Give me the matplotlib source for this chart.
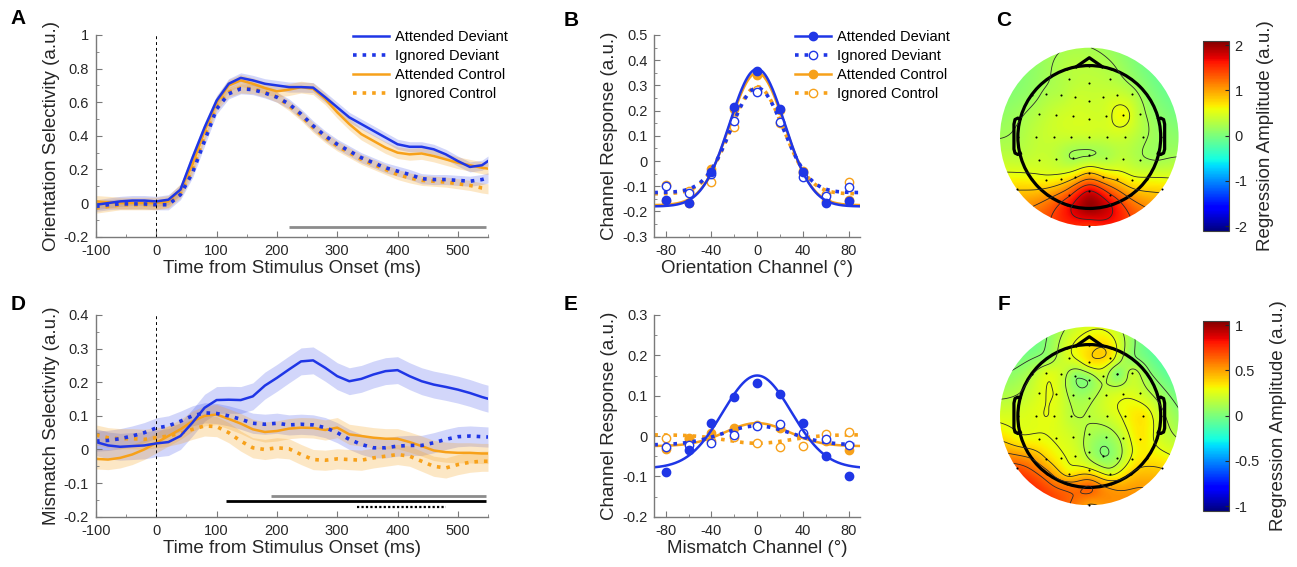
import numpy as np
import matplotlib
matplotlib.use('Agg')
import matplotlib.pyplot as plt
from matplotlib.ticker import MultipleLocator, FormatStrFormatter
from matplotlib.patches import Circle

plt.rcParams['font.family'] = ['Liberation Sans', 'DejaVu Sans']
plt.rcParams['axes.unicode_minus'] = False

BLUE = '#1f36e6'
ORANGE = '#f7a11a'
labels = ['Attended Deviant', 'Ignored Deviant', 'Attended Control', 'Ignored Control']

# ---- time courses (ms) ----
time_ms = list(range(-100, 541, 20)) + [550]

A_att_dev = [-0.01, 0.0, 0.01, 0.015, 0.015, 0.01, 0.02, 0.08, 0.27, 0.45, 0.61, 0.71, 0.745, 0.73, 0.71, 0.70,
             0.69, 0.69, 0.687, 0.63, 0.57, 0.51, 0.47, 0.43, 0.39, 0.35, 0.335, 0.335, 0.32, 0.29, 0.25, 0.215,
             0.225, 0.25]
A_ign_dev = [-0.02, -0.01, -0.005, -0.005, -0.005, -0.01, -0.01, 0.05, 0.18, 0.37, 0.56, 0.65, 0.68, 0.675,
             0.655, 0.63, 0.59, 0.53, 0.46, 0.40, 0.35, 0.31, 0.27, 0.24, 0.21, 0.19, 0.17, 0.145, 0.14, 0.14,
             0.135, 0.13, 0.14, 0.15]
A_att_ctl = [0.01, 0.005, 0.0, 0.0, 0.0, 0.0, 0.01, 0.08, 0.23, 0.43, 0.6, 0.7, 0.73, 0.71, 0.685, 0.665, 0.675,
             0.69, 0.68, 0.62, 0.54, 0.47, 0.41, 0.37, 0.33, 0.30, 0.29, 0.295, 0.28, 0.26, 0.24, 0.225, 0.21,
             0.205]
A_ign_ctl = [-0.03, -0.02, -0.01, -0.01, -0.01, -0.01, 0.0, 0.06, 0.2, 0.4, 0.58, 0.66, 0.685, 0.68, 0.66, 0.63,
             0.58, 0.52, 0.45, 0.39, 0.34, 0.30, 0.26, 0.23, 0.20, 0.17, 0.15, 0.135, 0.13, 0.125, 0.115, 0.105,
             0.09, 0.085]
A_sem = [0.03, 0.03, 0.035, 0.03]
A_sig = [(220, 546)]

D_att_dev = [0.022, 0.012, 0.008, 0.01, 0.012, 0.018, 0.022, 0.04, 0.08, 0.124, 0.147, 0.148, 0.147, 0.158,
             0.19, 0.213, 0.238, 0.262, 0.265, 0.243, 0.218, 0.203, 0.21, 0.223, 0.233, 0.236, 0.218, 0.203,
             0.193, 0.186, 0.178, 0.168, 0.156, 0.151]
D_ign_dev = [0.025, 0.027, 0.032, 0.04, 0.05, 0.064, 0.07, 0.084, 0.1, 0.109, 0.107, 0.1, 0.09, 0.078, 0.075,
             0.078, 0.073, 0.075, 0.073, 0.065, 0.05, 0.03, 0.015, 0.005, 0.005, 0.01, 0.012, 0.012, 0.02, 0.03,
             0.038, 0.04, 0.038, 0.037]
D_att_ctl = [-0.028, -0.03, -0.025, -0.015, 0.0, 0.02, 0.04, 0.06, 0.084, 0.1, 0.104, 0.091, 0.077, 0.06, 0.052,
             0.055, 0.062, 0.065, 0.064, 0.058, 0.065, 0.045, 0.04, 0.035, 0.032, 0.032, 0.022, 0.01, -0.003,
             -0.008, -0.01, -0.01, -0.012, -0.012]
D_ign_ctl = [0.043, 0.035, 0.032, 0.032, 0.03, 0.035, 0.04, 0.048, 0.06, 0.07, 0.068, 0.05, 0.025, 0.005, 0.0,
             0.005, 0.002, -0.015, -0.03, -0.032, -0.028, -0.03, -0.032, -0.025, -0.02, -0.015, -0.02, -0.035,
             -0.05, -0.055, -0.045, -0.038, -0.035, -0.035]
D_sem = [0.04, 0.03, 0.03, 0.03]
D_sig_gray = [(190, 546)]
D_sig_black = [(115, 546)]
D_sig_dotted = [(332, 480)]

# ---- channel tuning functions ----
channels = [-80, -60, -40, -20, 0, 20, 40, 60, 80]
B_att_dev = [-0.155, -0.166, -0.045, 0.215, 0.358, 0.207, -0.044, -0.166, -0.159]
B_ign_dev = [-0.097, -0.126, -0.051, 0.158, 0.272, 0.154, -0.063, -0.137, -0.102]
B_att_ctl = [-0.16, -0.165, -0.031, 0.208, 0.34, 0.204, -0.04, -0.16, -0.155]
B_ign_ctl = [-0.093, -0.12, -0.084, 0.134, 0.28, 0.152, -0.047, -0.13, -0.084]
B_fit_base = [-0.18, -0.125, -0.175, -0.13]
B_fit_amp = [0.545, 0.415, 0.525, 0.425]
B_fit_width = [24, 23, 24, 23]

E_att_dev = [-0.09, -0.035, 0.033, 0.097, 0.132, 0.105, 0.033, -0.05, -0.099]
E_ign_dev = [-0.026, -0.022, -0.017, 0.002, 0.025, 0.029, 0.008, -0.008, -0.022]
E_att_ctl = [-0.033, -0.008, 0.008, 0.021, 0.027, 0.02, 0.005, -0.012, -0.035]
E_ign_ctl = [-0.004, -0.005, -0.012, -0.003, -0.018, -0.028, -0.025, 0.005, 0.011]
E_fit_base = [-0.08, -0.022, -0.025, 0.003]
E_fit_amp = [0.23, 0.047, 0.057, -0.021]
E_fit_width = [30, 30, 28, 28]

# ---- scalp maps ----
chan_names = ['Fp1', 'Fpz', 'Fp2',
              'AF7', 'AF3', 'AFz', 'AF4', 'AF8',
              'F7', 'F5', 'F3', 'F1', 'Fz', 'F2', 'F4', 'F6', 'F8',
              'FT7', 'FC5', 'FC3', 'FC1', 'FCz', 'FC2', 'FC4', 'FC6', 'FT8',
              'T7', 'C5', 'C3', 'C1', 'Cz', 'C2', 'C4', 'C6', 'T8',
              'TP7', 'CP5', 'CP3', 'CP1', 'CPz', 'CP2', 'CP4', 'CP6', 'TP8',
              'P9', 'P7', 'P5', 'P3', 'P1', 'Pz', 'P2', 'P4', 'P6', 'P8', 'P10',
              'PO7', 'PO3', 'POz', 'PO4', 'PO8',
              'O1', 'Oz', 'O2', 'Iz']
topo_C = [0.3, 0.3, 0.25,
          0.2, 0.3, 0.35, 0.3, 0.15,
          0.15, 0.25, 0.3, 0.4, 0.4, 0.4, 0.4, 0.3, 0.1,
          0.2, 0.3, 0.4, 0.45, 0.45, 0.45, 0.6, 0.3, 0.1,
          0.25, 0.35, 0.4, 0.4, 0.4, 0.4, 0.4, 0.25, 0.15,
          0.35, 0.4, 0.35, 0.2, 0.2, 0.25, 0.35, 0.25, 0.2,
          0.8, 0.6, 0.6, 0.65, 0.75, 0.8, 0.8, 0.75, 0.6, 0.55, 0.75,
          1.0, 1.35, 1.7, 1.45, 1.0,
          1.6, 2.0, 1.7, 1.5]
topo_F = [0.24, 0.34, 0.34,
          0.08, 0.24, 0.34, 0.34, 0.06,
          0.14, 0.24, 0.21, 0.05, 0.05, 0.19, 0.03, 0.19, 0.07,
          0.16, 0.24, 0.26, 0.11, 0.12, 0.21, 0.24, 0.21, 0.11,
          0.24, 0.26, 0.26, 0.16, 0.16, 0.21, 0.29, 0.34, 0.19,
          0.29, 0.29, 0.26, 0.21, 0.13, 0.08, 0.19, 0.34, 0.24,
          0.68, 0.5, 0.39, 0.29, 0.24, 0.11, 0.03, 0.11, 0.29, 0.34, 0.39,
          0.55, 0.34, 0.29, 0.24, 0.4,
          0.55, 0.64, 0.45, 0.5]

# electrode layout (10-10 system, polar angle / azimuth in degrees)
rows = [(['Fp1'], ['Fp2'], 'Fpz', (72, -18), (72, 0)),
        (['AF7', 'AF3'], ['AF8', 'AF4'], 'AFz', (72, -36), (54, 0)),
        (['F7', 'F5', 'F3', 'F1'], ['F8', 'F6', 'F4', 'F2'], 'Fz', (72, -54), (36, 0)),
        (['FT7', 'FC5', 'FC3', 'FC1'], ['FT8', 'FC6', 'FC4', 'FC2'], 'FCz', (72, -72), (18, 0)),
        (['T7', 'C5', 'C3', 'C1'], ['T8', 'C6', 'C4', 'C2'], 'Cz', (72, -90), (0, 0)),
        (['TP7', 'CP5', 'CP3', 'CP1'], ['TP8', 'CP6', 'CP4', 'CP2'], 'CPz', (72, -108), (18, 180)),
        (['P7', 'P5', 'P3', 'P1'], ['P8', 'P6', 'P4', 'P2'], 'Pz', (72, -126), (36, 180)),
        (['PO7', 'PO3'], ['PO8', 'PO4'], 'POz', (72, -144), (54, 180)),
        (['O1'], ['O2'], 'Oz', (72, -162), (72, 180))]


def sph(polar, az):
    p, a = np.radians(polar), np.radians(az)
    return np.array([np.sin(p) * np.sin(a), np.sin(p) * np.cos(a), np.cos(p)])


def flat(v):
    polar = np.degrees(np.arccos(np.clip(v[2], -1, 1)))
    az = np.arctan2(v[0], v[1])
    r = polar / 72.0
    return np.array([r * np.sin(az), r * np.cos(az)])


pos = {}
for left, right, mid, lat, md in rows:
    u, w = sph(*lat), sph(*md)
    om = np.arccos(np.clip(u @ w, -1, 1))
    for k, (ln, rn) in enumerate(zip(left, right)):
        t = k / len(left)
        v = u if om < 1e-9 else (np.sin((1 - t) * om) * u + np.sin(t * om) * w) / np.sin(om)
        p = flat(v)
        pos[ln] = p
        pos[rn] = np.array([-p[0], p[1]])
    pos[mid] = flat(w)
pos['P9'] = flat(sph(90, -126))
pos['P10'] = flat(sph(90, 126))
pos['Iz'] = flat(sph(90, 180))
elec_xy = np.array([pos[n] for n in chan_names])

W, H = 1297, 567
fig = plt.figure(figsize=(W / 100, H / 100), dpi=100)


def px_axes(l, t, r, b):
    return fig.add_axes([l / W, 1 - b / H, (r - l) / W, (b - t) / H])


def style(ax):
    for s in ['top', 'right']:
        ax.spines[s].set_visible(False)
    for s in ['left', 'bottom']:
        ax.spines[s].set_color('#7a7a7a')
        ax.spines[s].set_linewidth(1.0)
    ax.tick_params(which='both', direction='in', color='#7a7a7a', labelcolor='#262626', labelsize=10.5, pad=5)
    ax.tick_params(which='major', length=4)
    ax.tick_params(which='minor', length=2)
    ax.xaxis.set_major_formatter(FormatStrFormatter('%g'))
    ax.yaxis.set_major_formatter(FormatStrFormatter('%g'))


styles = [(BLUE, '-', 1.8), (BLUE, ':', 2.6), (ORANGE, '-', 1.8), (ORANGE, ':', 2.6)]


def time_panel(ax, series, sems, ylim, ymaj, ymin, ylabel):
    t = np.array(time_ms)
    for s, e, (c, ls, lw) in zip(series, sems, styles):
        s = np.array(s)
        ax.fill_between(t, s - e, s + e, color=c, alpha=0.2 if c == BLUE else 0.25, lw=0)
    lines = {}
    for i in [3, 2, 1, 0]:
        c, ls, lw = styles[i]
        lines[i], = ax.plot(t, series[i], color=c, ls=ls, lw=lw, label=labels[i])
    ax.axvline(0, color='k', lw=0.7, ls=(0, (3, 3)))
    ax.set_xlim(-100, 550)
    ax.set_ylim(*ylim)
    ax.xaxis.set_major_locator(MultipleLocator(100))
    ax.xaxis.set_minor_locator(MultipleLocator(50))
    ax.yaxis.set_major_locator(MultipleLocator(ymaj))
    ax.yaxis.set_minor_locator(MultipleLocator(ymin))
    style(ax)
    ax.set_xlabel('Time from Stimulus Onset (ms)', fontsize=13.5, labelpad=2, color='#262626')
    ax.set_ylabel(ylabel, fontsize=13.5, labelpad=3, color='#262626')
    return [lines[i] for i in range(4)]


axA = px_axes(96, 35, 488, 236.7)
hA = time_panel(axA, [A_att_dev, A_ign_dev, A_att_ctl, A_ign_ctl], A_sem, (-0.2, 1), 0.2, 0.1,
                'Orientation Selectivity (a.u.)')
for a, b in A_sig:
    axA.plot([a, b], [-0.14, -0.14], color='#8c8c8c', lw=2, solid_capstyle='butt')
axA.legend(handles=hA, loc='upper left', bbox_to_anchor=(353 / W, 1 - 30 / H), bbox_transform=fig.transFigure,
           frameon=False, fontsize=10.5, handlelength=2.5, handletextpad=0.4, labelspacing=0.35,
           borderpad=0, borderaxespad=0)

axD = px_axes(96, 315, 488, 516.7)
time_panel(axD, [D_att_dev, D_ign_dev, D_att_ctl, D_ign_ctl], D_sem, (-0.2, 0.4), 0.1, 0.05,
           'Mismatch Selectivity (a.u.)')
for a, b in D_sig_gray:
    axD.plot([a, b], [-0.138, -0.138], color='#8c8c8c', lw=2, solid_capstyle='butt')
for a, b in D_sig_black:
    axD.plot([a, b], [-0.154, -0.154], color='k', lw=2, solid_capstyle='butt')
for a, b in D_sig_dotted:
    axD.plot([a, b], [-0.17, -0.17], color='k', lw=1.6, ls=(0, (1, 1)))


def tuning_panel(ax, pts, base, amp, width, ylim, xlabel, legend=False):
    xs = np.linspace(-90, 90, 361)
    handles = []
    for i in [3, 2, 1, 0]:
        c, ls, lw = styles[i]
        curve = base[i] + amp[i] * np.exp(-xs ** 2 / (2 * width[i] ** 2))
        ax.plot(xs, curve, color=c, ls=ls, lw=lw)
        filled = ls == '-'
        ax.plot(channels, pts[i], ls='none', marker='o', ms=6, mec=c, mew=1.0,
                mfc=c if filled else 'white')
    for i in range(4):
        c, ls, lw = styles[i]
        filled = ls == '-'
        h, = ax.plot([], [], color=c, ls=ls, lw=lw, marker='o', ms=6, mec=c, mew=1.0,
                     mfc=c if filled else 'white', label=labels[i])
        handles.append(h)
    ax.set_xlim(-90, 90)
    ax.set_ylim(*ylim)
    ax.xaxis.set_major_locator(MultipleLocator(40))
    ax.xaxis.set_minor_locator(MultipleLocator(20))
    ax.yaxis.set_major_locator(MultipleLocator(0.1))
    ax.yaxis.set_minor_locator(MultipleLocator(0.05))
    style(ax)
    ax.set_xlabel(xlabel, fontsize=13.5, labelpad=2, color='#262626')
    ax.set_ylabel('Channel Response (a.u.)', fontsize=13.5, labelpad=3, color='#262626')
    if legend:
        ax.legend(handles=handles, loc='upper left', bbox_to_anchor=(795 / W, 1 - 30 / H),
                  bbox_transform=fig.transFigure, frameon=False, fontsize=10.5, handlelength=2.5,
                  handletextpad=0.4, labelspacing=0.35, borderpad=0, borderaxespad=0)


axB = px_axes(654.3, 35, 860, 236.7)
tuning_panel(axB, [B_att_dev, B_ign_dev, B_att_ctl, B_ign_ctl], B_fit_base, B_fit_amp, B_fit_width,
             (-0.3, 0.5), 'Orientation Channel (°)', legend=True)
axE = px_axes(654.3, 315, 860, 516.7)
tuning_panel(axE, [E_att_dev, E_ign_dev, E_att_ctl, E_ign_ctl], E_fit_base, E_fit_amp, E_fit_width,
             (-0.2, 0.3), 'Mismatch Channel (°)')


def tps_kernel(d):
    with np.errstate(divide='ignore', invalid='ignore'):
        g = d ** 2 * np.log(d)
    g[d == 0] = 0
    return g


def topo_panel(ax, cax, vals, lim, ticks):
    vals = np.array(vals)
    n = len(vals)
    dd = np.linalg.norm(elec_xy[:, None, :] - elec_xy[None, :, :], axis=2)
    P = np.column_stack([np.ones(n), elec_xy])
    M = np.zeros((n + 3, n + 3))
    M[:n, :n] = tps_kernel(dd)
    M[:n, n:] = P
    M[n:, :n] = P.T
    coef = np.linalg.solve(M, np.concatenate([vals, np.zeros(3)]))
    g = np.linspace(-1.25, 1.25, 251)
    X, Y = np.meshgrid(g, g)
    gp = np.stack([X.ravel(), Y.ravel()], axis=1)
    dg = np.linalg.norm(gp[:, None, :] - elec_xy[None, :, :], axis=2)
    Z = tps_kernel(dg) @ coef[:n] + coef[n] + gp @ coef[n + 1:]
    Z = Z.reshape(X.shape)
    inside = np.hypot(X, Y) <= 1.25
    im = ax.imshow(Z, extent=(-1.25, 1.25, -1.25, 1.25), origin='lower', cmap='jet', vmin=-lim, vmax=lim,
                   interpolation='bilinear')
    im.set_clip_path(Circle((0, 0), 1.25, transform=ax.transData))
    zin = Z[inside]
    levels = np.linspace(zin.min(), zin.max(), 8)[1:-1]
    cs = ax.contour(X, Y, Z, levels=levels, colors='#2a2a2a', linewidths=0.6)
    cs.set_clip_path(Circle((0, 0), 1.25, transform=ax.transData))
    ax.plot(elec_xy[:, 0], elec_xy[:, 1], 'o', color='k', ms=1.5, mew=0)
    ax.add_patch(Circle((0, 0), 1.0, fill=False, ec='k', lw=2.3))
    ax.plot([-0.18, 0, 0.18], [0.985, 1.11, 0.985], color='k', lw=2.3, solid_joinstyle='round')
    ear_x = np.array([0.97, 1.0, 1.04, 1.055, 1.055, 1.04, 1.0, 0.965])
    ear_y = np.array([0.25, 0.265, 0.245, 0.18, -0.17, -0.225, -0.245, -0.23])
    ax.plot(-ear_x, ear_y, color='k', lw=2.3, solid_joinstyle='round')
    ax.plot(ear_x, ear_y, color='k', lw=2.3, solid_joinstyle='round')
    ax.set_xlim(-1.4, 1.4)
    ax.set_ylim(-1.4, 1.4)
    ax.set_aspect('equal')
    ax.axis('off')
    cb = fig.colorbar(im, cax=cax, ticks=ticks)
    cb.outline.set_linewidth(0.8)
    cb.outline.set_edgecolor('#404040')
    cax.tick_params(direction='in', length=3, color='#262626', labelcolor='#262626', labelsize=10.5, pad=4)
    cax.yaxis.set_major_formatter(FormatStrFormatter('%g'))
    cb.set_label('Regression Amplitude (a.u.)', fontsize=13.5, color='#262626', labelpad=7)


axC = px_axes(989.3, 37, 1189.3, 237)
caxC = px_axes(1203, 40.7, 1229, 230.7)
topo_panel(axC, caxC, topo_C, 2.1, [-2, -1, 0, 1, 2])
axF = px_axes(989.3, 316, 1189.3, 516)
caxF = px_axes(1203, 320.7, 1229, 510.7)
topo_panel(axF, caxF, topo_F, 1.05, [-1, -0.5, 0, 0.5, 1])

for lab, x, y in [('A', 18, 19), ('B', 571, 20), ('C', 1004, 21), ('D', 18, 305), ('E', 571, 304),
                  ('F', 1004, 305)]:
    fig.text(x / W, 1 - y / H, lab, fontsize=15, fontweight='bold', ha='center', va='center')

fig.savefig('out.png', dpi=100, facecolor='white')
